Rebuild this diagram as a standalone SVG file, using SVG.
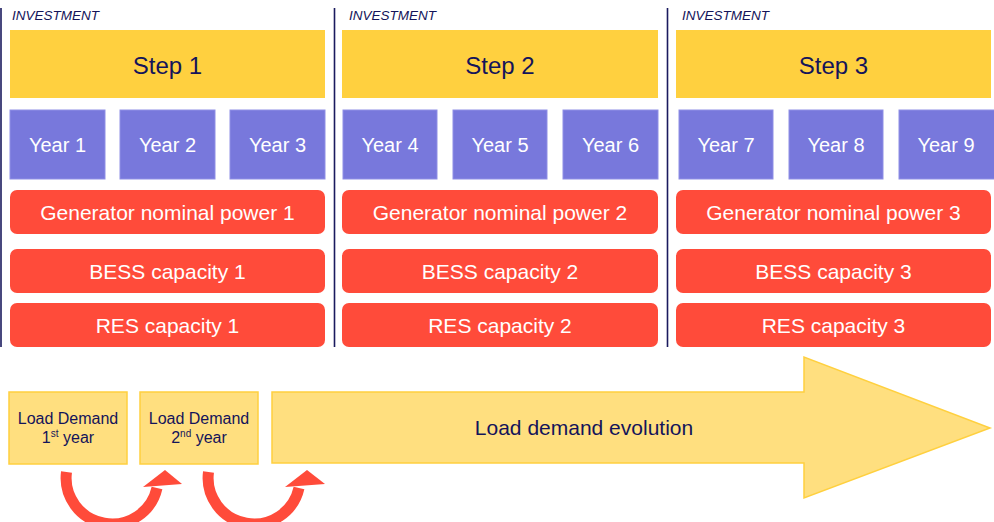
<svg xmlns="http://www.w3.org/2000/svg" width="994" height="522" viewBox="0 0 994 522">
<style>
text{font-family:"Liberation Sans",Arial,sans-serif;}
.inv{font-size:13.5px;font-style:italic;fill:#14145a;}
.step{fill:#ffd03f;}
.stept{font-size:24px;fill:#14145a;text-anchor:middle;}
.year{fill:#7878dc;stroke:#8f8fe6;stroke-width:1;}
.yeart{font-size:20px;fill:#ffffff;text-anchor:middle;}
.red{fill:#ff4b3a;}
.redt{font-size:21px;fill:#ffffff;text-anchor:middle;}
.ld{fill:#ffdf7f;stroke:#ffd03f;stroke-width:1.5;}
.ldt{font-size:16px;fill:#14145a;text-anchor:middle;}
.sep{stroke:#1a1a5e;stroke-width:1.6;}
.curve{fill:none;stroke:#ff4b3a;stroke-width:11;}
.head{fill:#ff4b3a;}
</style>
<g id="separators">
<line class="sep" x1="1" y1="8" x2="1" y2="347"/>
<line class="sep" x1="334.5" y1="8" x2="334.5" y2="347"/>
<line class="sep" x1="667.5" y1="8" x2="667.5" y2="347"/>
</g>
<g id="investment1"><text class="inv" x="12" y="20">INVESTMENT</text></g>
<g id="investment2"><text class="inv" x="349" y="20">INVESTMENT</text></g>
<g id="investment3"><text class="inv" x="682" y="20">INVESTMENT</text></g>
<g id="step1"><rect class="step" x="10" y="30" width="315" height="68"/><text class="stept" x="167.5" y="74">Step 1</text></g>
<g id="step2"><rect class="step" x="342" y="30" width="316" height="68"/><text class="stept" x="500" y="74">Step 2</text></g>
<g id="step3"><rect class="step" x="676" y="30" width="315" height="68"/><text class="stept" x="833.5" y="74">Step 3</text></g>
<g id="year1"><rect class="year" x="10" y="110" width="95" height="69"/><text class="yeart" x="57.5" y="152">Year 1</text></g>
<g id="year2"><rect class="year" x="120" y="110" width="95" height="69"/><text class="yeart" x="167.5" y="152">Year 2</text></g>
<g id="year3"><rect class="year" x="230" y="110" width="95" height="69"/><text class="yeart" x="277.5" y="152">Year 3</text></g>
<g id="year4"><rect class="year" x="343" y="110" width="94" height="69"/><text class="yeart" x="390" y="152">Year 4</text></g>
<g id="year5"><rect class="year" x="453" y="110" width="94" height="69"/><text class="yeart" x="500" y="152">Year 5</text></g>
<g id="year6"><rect class="year" x="563" y="110" width="95" height="69"/><text class="yeart" x="610.5" y="152">Year 6</text></g>
<g id="year7"><rect class="year" x="679" y="110" width="94" height="69"/><text class="yeart" x="726" y="152">Year 7</text></g>
<g id="year8"><rect class="year" x="789" y="110" width="94" height="69"/><text class="yeart" x="836" y="152">Year 8</text></g>
<g id="year9"><rect class="year" x="899" y="110" width="96" height="69"/><text class="yeart" x="946" y="152">Year 9</text></g>
<g id="gen1"><rect class="red" x="10" y="190" width="315" height="44" rx="7"/><text class="redt" x="167.5" y="219.5">Generator nominal power 1</text></g>
<g id="gen2"><rect class="red" x="342" y="190" width="316" height="44" rx="7"/><text class="redt" x="500" y="219.5">Generator nominal power 2</text></g>
<g id="gen3"><rect class="red" x="676" y="190" width="315" height="44" rx="7"/><text class="redt" x="833.5" y="219.5">Generator nominal power 3</text></g>
<g id="bess1"><rect class="red" x="10" y="249" width="315" height="44" rx="7"/><text class="redt" x="167.5" y="278.5">BESS capacity 1</text></g>
<g id="bess2"><rect class="red" x="342" y="249" width="316" height="44" rx="7"/><text class="redt" x="500" y="278.5">BESS capacity 2</text></g>
<g id="bess3"><rect class="red" x="676" y="249" width="315" height="44" rx="7"/><text class="redt" x="833.5" y="278.5">BESS capacity 3</text></g>
<g id="res1"><rect class="red" x="10" y="303" width="315" height="44" rx="7"/><text class="redt" x="167.5" y="333">RES capacity 1</text></g>
<g id="res2"><rect class="red" x="342" y="303" width="316" height="44" rx="7"/><text class="redt" x="500" y="333">RES capacity 2</text></g>
<g id="res3"><rect class="red" x="676" y="303" width="315" height="44" rx="7"/><text class="redt" x="833.5" y="333">RES capacity 3</text></g>
<g id="evolution">
<polygon class="ld" points="272,392 804,392 804,357 990,428 804,498 804,463 272,463"/>
<text class="ldt" style="font-size:21px" x="584" y="435">Load demand evolution</text>
</g>
<g id="load1"><rect class="ld" x="9" y="392" width="118" height="72"/>
<text class="ldt" x="68" y="424">Load Demand</text>
<text class="ldt" x="68" y="443">1<tspan font-size="10" dy="-6">st</tspan><tspan dy="6"> year</tspan></text></g>
<g id="load2"><rect class="ld" x="140" y="392" width="118" height="72"/>
<text class="ldt" x="199" y="424">Load Demand</text>
<text class="ldt" x="199" y="443">2<tspan font-size="10" dy="-6">nd</tspan><tspan dy="6"> year</tspan></text></g>
<g id="connectors">
<path class="curve" d="M 66.5 472 A 46 46 0 0 0 157 488"/>
<polygon class="head" points="143,487 165,470 182,484"/>
<path class="curve" d="M 208.5 472 A 46 46 0 0 0 299 488"/>
<polygon class="head" points="285,487 307,470 325,484"/>
</g>
</svg>
